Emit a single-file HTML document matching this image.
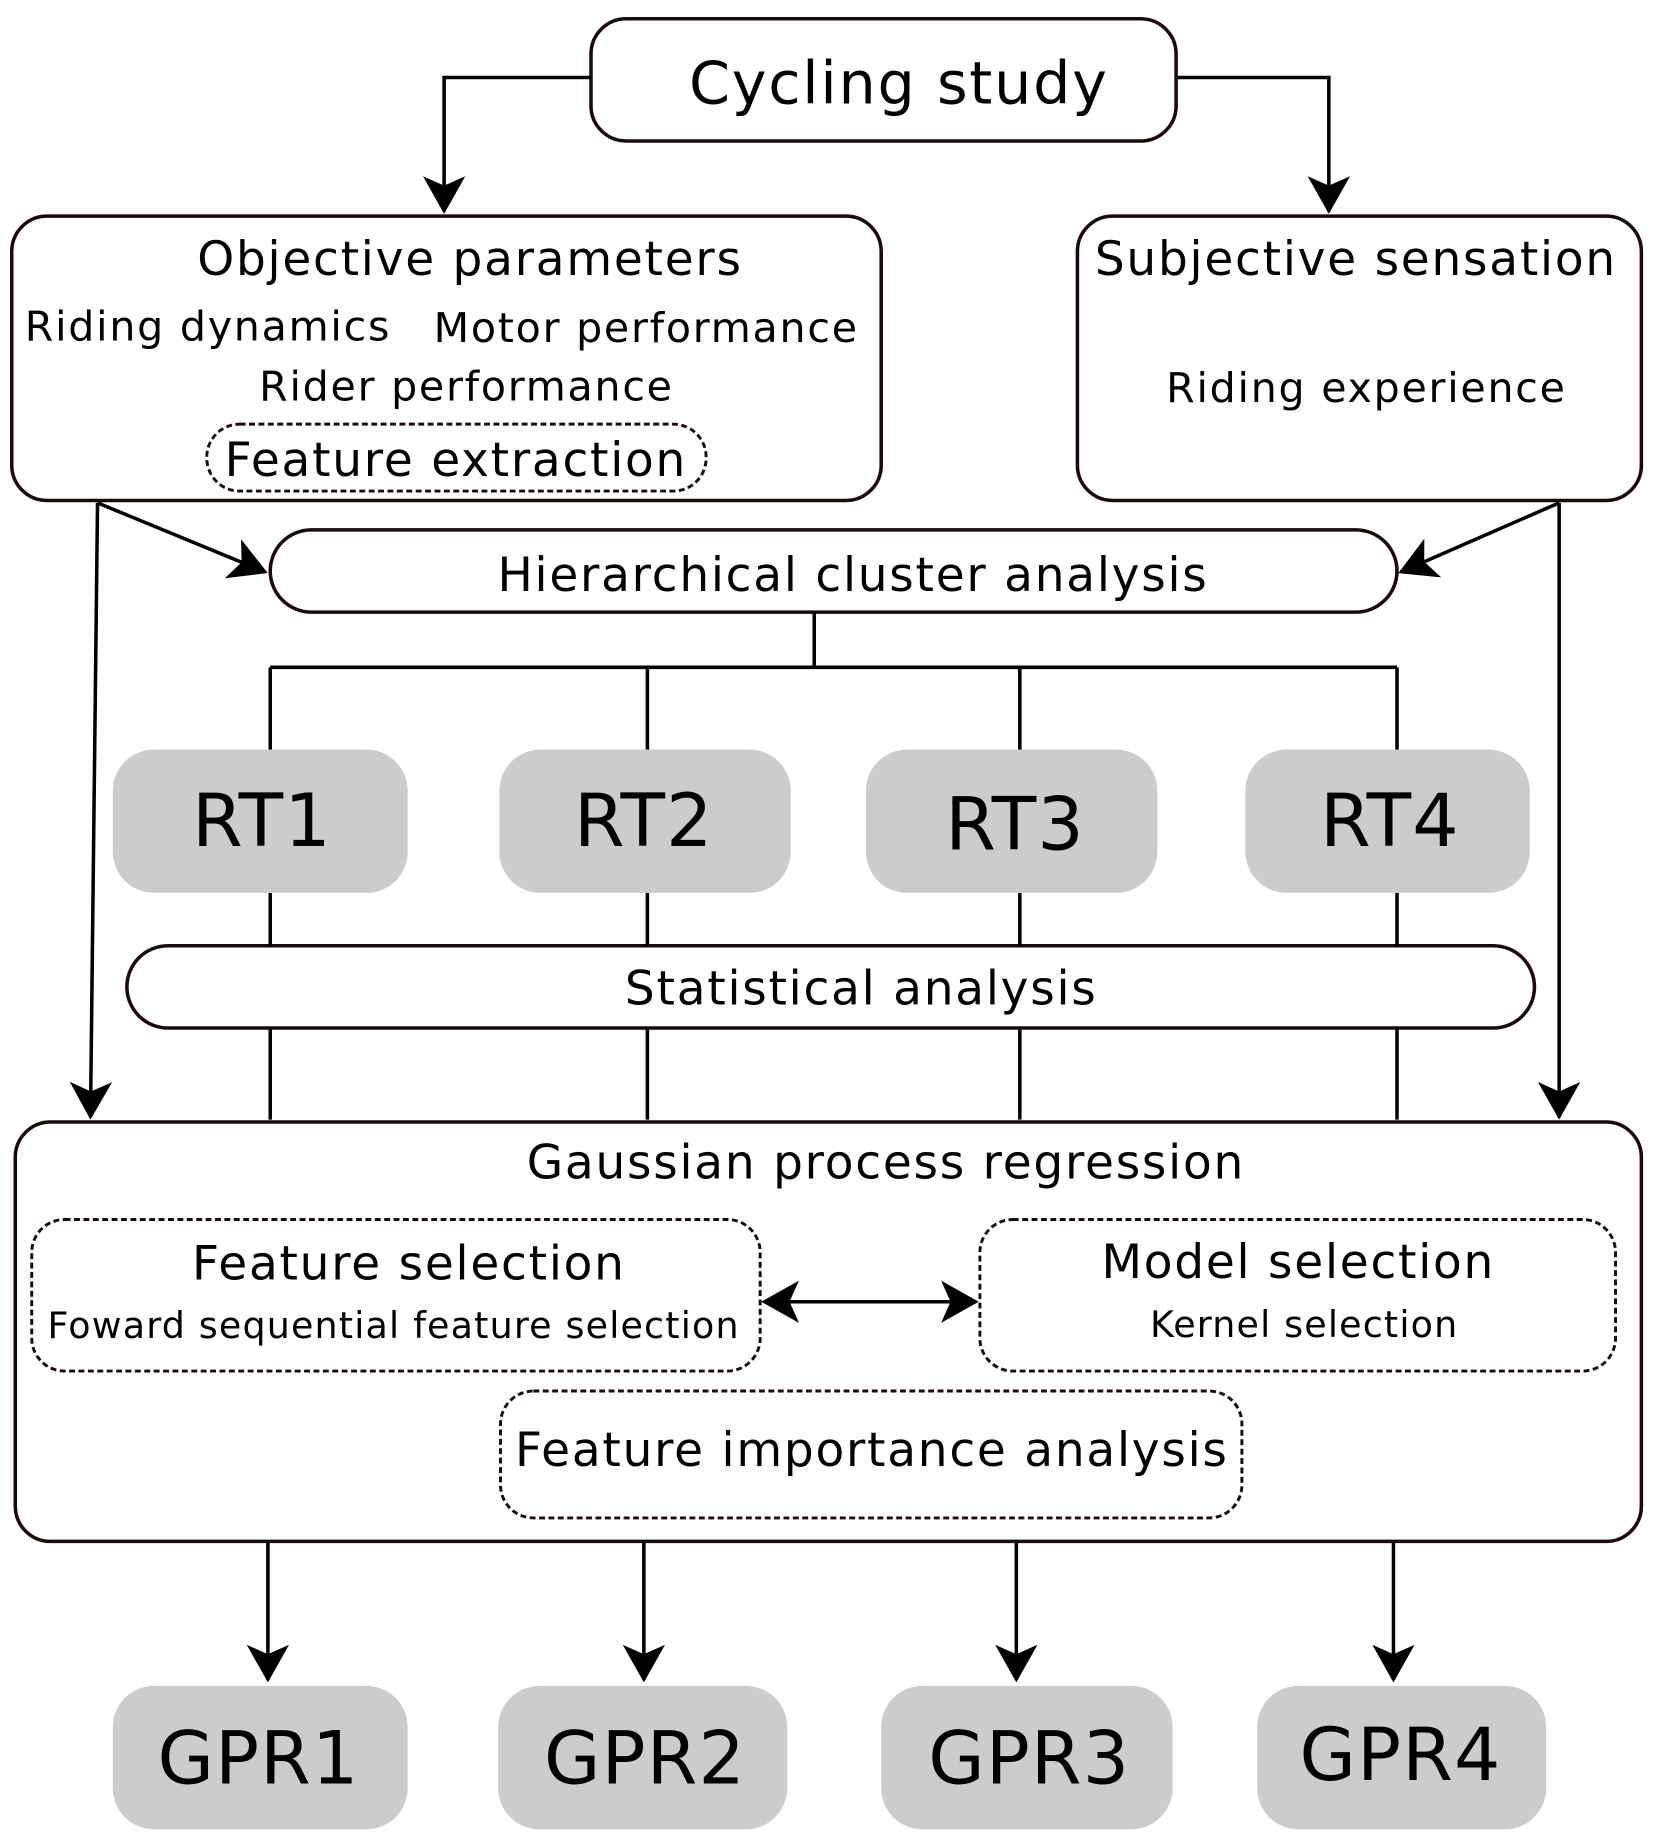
<!DOCTYPE html>
<html><head><meta charset="utf-8"><style>html,body{margin:0;padding:0;background:#fff}svg{display:block}</style></head>
<body>
<svg width="1659" height="1841" viewBox="0 0 1412 1567" preserveAspectRatio="none" xmlns="http://www.w3.org/2000/svg" font-family="DejaVu Sans, Liberation Sans, sans-serif" fill="#000">
<defs>
<marker id="b" markerWidth="32" markerHeight="36" refX="30" refY="18" orient="auto-start-reverse" markerUnits="userSpaceOnUse"><path d="M0,0 L32,18 L0,36 L8,18 z" fill="#000"/></marker>
</defs>
<g stroke="#1a0a0a" stroke-width="3" fill="none">
<rect x="503" y="16" width="498" height="104" rx="30"/>
<rect x="10" y="184" width="740" height="242" rx="30"/>
<rect x="917" y="184" width="480" height="242" rx="30"/>
<rect x="176" y="361" width="425" height="57" rx="28" stroke-dasharray="5,3" stroke-width="2.5"/>
<rect x="230" y="451" width="959" height="70" rx="35"/>
<rect x="108" y="805" width="1198" height="70" rx="35"/>
<rect x="13" y="955" width="1384" height="357" rx="30"/>
<rect x="27" y="1038" width="620" height="129" rx="28" stroke-dasharray="5,3" stroke-width="2.5"/>
<rect x="834" y="1038" width="541" height="129" rx="28" stroke-dasharray="5,3" stroke-width="2.5"/>
<rect x="426" y="1184" width="631" height="108" rx="28" stroke-dasharray="5,3" stroke-width="2.5"/>
</g>
<g stroke="#000" stroke-width="3" fill="none">
<path d="M503,66 H378 V180" marker-end="url(#b)"/>
<path d="M1001,66 H1131 V180" marker-end="url(#b)"/>
<path d="M83,428 L226,487" marker-end="url(#b)"/>
<path d="M1327,428 L1192,487" marker-end="url(#b)"/>
<path d="M83,428 L77,951" marker-end="url(#b)"/>
<path d="M1327,428 L1327,951" marker-end="url(#b)"/>
<path d="M693,521 V568 M230,568 H1189 M230,568 V638 M551,568 V638 M868,568 V638 M1189,568 V638"/>
<path d="M230,760 V805 M551,760 V805 M868,760 V805 M1189,760 V805"/>
<path d="M230,875 V953 M551,875 V953 M868,875 V953 M1189,875 V953"/>
<path d="M650,1108 H831" marker-start="url(#b)" marker-end="url(#b)"/>
<path d="M228,1312 V1430" marker-end="url(#b)"/>
<path d="M548,1312 V1430" marker-end="url(#b)"/>
<path d="M865,1312 V1430" marker-end="url(#b)"/>
<path d="M1186,1312 V1430" marker-end="url(#b)"/>
</g>
<g fill="#cccccc">
<rect x="96" y="638" width="251" height="122" rx="35"/>
<rect x="425" y="638" width="248" height="122" rx="35"/>
<rect x="737" y="638" width="248" height="122" rx="35"/>
<rect x="1060" y="638" width="242" height="122" rx="35"/>
<rect x="96" y="1435" width="251" height="122" rx="35"/>
<rect x="424" y="1435" width="246" height="122" rx="35"/>
<rect x="750" y="1435" width="248" height="122" rx="35"/>
<rect x="1070" y="1435" width="246" height="122" rx="35"/>
</g>
<g text-anchor="middle" letter-spacing="1.5">
<text x="765" y="88" font-size="50">Cycling study</text>
<text x="400" y="234" font-size="40">Objective parameters</text>
<text x="177" y="290" font-size="35">Riding dynamics</text>
<text x="550" y="291" font-size="35">Motor performance</text>
<text x="397" y="341" font-size="35">Rider performance</text>
<text x="388" y="405" font-size="40">Feature extraction</text>
<text x="1154" y="234" font-size="40">Subjective sensation</text>
<text x="1163" y="342" font-size="35">Riding experience</text>
<text x="726" y="503" font-size="40">Hierarchical cluster  analysis</text>
<text x="733" y="855" font-size="40">Statistical analysis</text>
<text x="754" y="1003" font-size="40">Gaussian process regression</text>
<text x="348" y="1089" font-size="40">Feature selection</text>
<text x="335" y="1139" font-size="31" letter-spacing="1">Foward sequential feature selection</text>
<text x="1105" y="1088" font-size="40">Model selection</text>
<text x="1110" y="1138" font-size="31" letter-spacing="1">Kernel selection</text>
<text x="742" y="1248" font-size="40">Feature importance analysis</text>
<g font-size="62" letter-spacing="1">
<text x="223" y="720">RT1</text>
<text x="548" y="720">RT2</text>
<text x="864" y="723">RT3</text>
<text x="1183" y="720">RT4</text>
<text x="220" y="1518">GPR1</text>
<text x="549" y="1518">GPR2</text>
<text x="876" y="1518">GPR3</text>
<text x="1192" y="1515">GPR4</text>
</g>
</g>
</svg>
</body></html>
